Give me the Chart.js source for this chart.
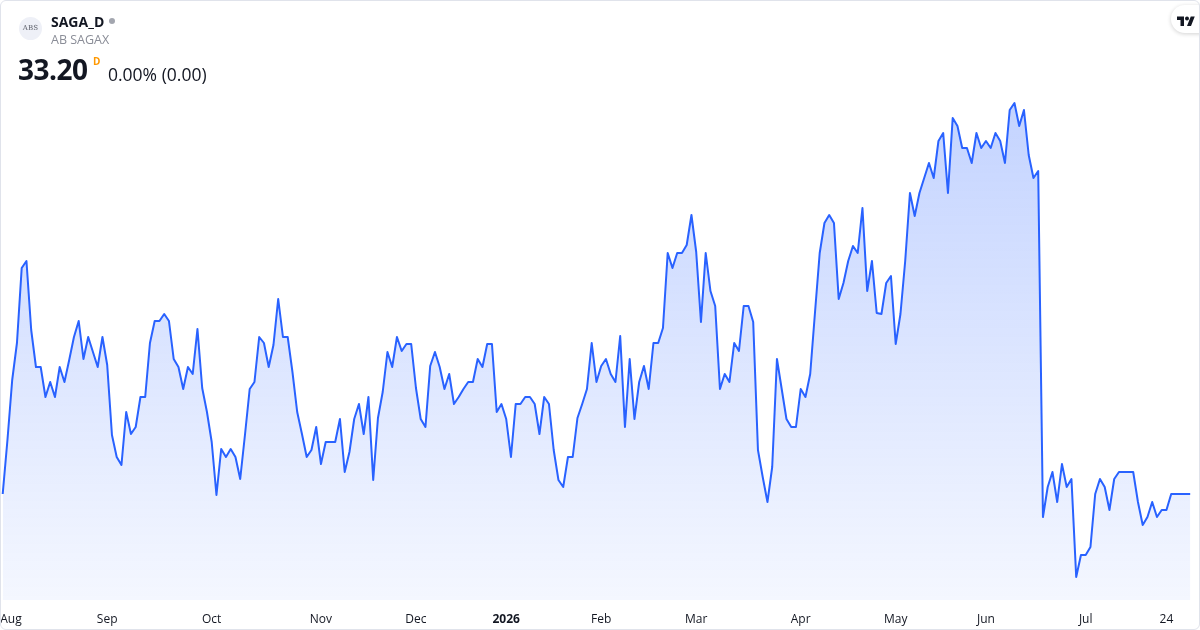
<!DOCTYPE html>
<html>
<head>
<meta charset="utf-8">
<script src="https://cdn.jsdelivr.net/npm/chart.js@4.4.1/dist/chart.umd.min.js"></script>
<style>
html,body{margin:0;padding:0;background:#fff;}
#wrap{position:relative;width:1200px;height:630px;overflow:hidden;font-family:"Open Sans",sans-serif;color:#131722;}
#chart{position:absolute;left:0;top:0;}
#frame{position:absolute;left:0;top:0;width:1198px;height:628px;border:1px solid #e0e3eb;border-radius:6px;pointer-events:none;z-index:5;}
.t{position:absolute;white-space:nowrap;z-index:4;}
#icon{position:absolute;left:19px;top:17px;width:23px;height:23px;border-radius:50%;background:#eef0f7;z-index:4;
  font-family:"DejaVu Serif",serif;font-size:7px;color:#5d606b;text-align:center;line-height:23px;letter-spacing:0.2px;}
#dot{position:absolute;left:109px;top:18px;width:6px;height:6px;border-radius:50%;background:#a3a6af;z-index:4;}
#logo{position:absolute;left:1171px;top:5px;width:44px;height:28px;border-radius:14px;background:#fff;box-shadow:0 1px 4px rgba(0,0,0,0.18);z-index:4;}
#logo svg{position:absolute;left:6px;top:11px;}
</style>
</head>
<body>
<div id="wrap">
  <canvas id="chart" width="1200" height="630"></canvas>
  <div id="icon">ABS</div>
  <div class="t" id="sym" style="left:51px;top:14.6px;font-size:14px;line-height:14px;font-weight:700;">SAGA_D</div>
  <div id="dot"></div>
  <div class="t" id="name" style="left:51px;top:34px;font-size:12.5px;line-height:12.5px;color:#8a8d97;">AB SAGAX</div>
  <div class="t" id="price" style="left:18px;top:55px;font-size:28px;line-height:28px;font-weight:700;letter-spacing:-0.5px;">33.20</div>
  <div class="t" id="flag" style="left:93px;top:56px;font-size:10px;line-height:10px;font-weight:700;color:#ff9800;">D</div>
  <div class="t" id="chg" style="left:108px;top:66px;font-size:17.5px;line-height:17.5px;">0.00% (0.00)</div>
  <div id="logo"><svg width="18" height="10" viewBox="0 0 36 20"><path d="M14 20H7V8H0V1h14v19zM28 20h-8l7.5-19h8L28 20z" fill="#131722"/><circle cx="20" cy="5" r="4" fill="#131722"/></svg></div>
  <div id="frame"></div>
</div>
<script>
// Daily closing prices (SEK), one per trading day, oldest first
const closes = [
33.20,33.74,34.34,34.71,35.46,35.53,34.84,34.47,34.47,34.17,
34.32,34.17,34.47,34.32,34.54,34.77,34.93,34.55,34.77,34.62,
34.47,34.77,34.49,33.79,33.57,33.49,34.02,33.80,33.87,34.17,
34.17,34.71,34.93,34.93,35.00,34.93,34.55,34.47,34.25,34.47,
34.40,34.85,34.26,34.02,33.72,33.19,33.65,33.57,33.65,33.57,
33.35,33.79,34.25,34.32,34.77,34.71,34.47,34.69,35.15,34.77,
34.77,34.42,34.02,33.80,33.57,33.64,33.87,33.50,33.72,33.72,
33.72,33.95,33.42,33.62,33.95,34.10,33.80,34.17,33.34,33.96,
34.22,34.62,34.47,34.77,34.63,34.70,34.70,34.26,33.95,33.87,
34.48,34.62,34.47,34.25,34.40,34.10,34.17,34.25,34.32,34.32,
34.55,34.47,34.70,34.70,34.02,34.10,33.95,33.57,34.10,34.10,
34.17,34.17,34.10,33.80,34.17,34.10,33.64,33.34,33.27,33.57,
33.57,33.96,34.10,34.25,34.71,34.32,34.48,34.55,34.40,34.32,
34.78,33.87,34.55,33.95,34.32,34.48,34.25,34.71,34.71,34.86,
35.61,35.46,35.61,35.61,35.69,35.99,35.62,34.92,35.61,35.23,
35.08,34.25,34.40,34.32,34.71,34.63,35.08,35.08,34.92,33.64,
33.37,33.12,33.47,34.55,34.25,33.95,33.87,33.87,34.25,34.17,
34.40,35.01,35.61,35.91,35.99,35.91,35.15,35.31,35.53,35.68,
35.61,36.06,35.23,35.53,35.01,35.00,35.31,35.38,34.70,35.00,
35.53,36.21,35.98,36.21,36.36,36.51,36.36,36.73,36.81,36.21,
36.96,36.88,36.66,36.66,36.51,36.81,36.66,36.73,36.66,36.81,
36.73,36.51,37.04,37.11,36.88,37.04,36.59,36.36,36.43,32.97,
33.27,33.42,33.12,33.50,33.27,33.35,32.37,32.59,32.59,32.67,
33.20,33.35,33.27,33.04,33.35,33.42,33.42,33.42,33.42,33.12,
32.89,32.97,33.12,32.97,33.04,33.04,33.20,33.20,33.20,33.20,
33.20
];
// Time-axis labels and the trading-day index where each one sits
const tickLabels = ['Aug','Sep','Oct','Nov','Dec','2026','Feb','Mar','Apr','May','Jun','Jul','24'];
const tickIndex  = [1.75, 22, 44, 67, 87, 106, 126, 146, 168, 188, 207, 228, 245];

const points = closes.map((v, i) => ({x: i, y: v}));

const ctx = document.getElementById('chart').getContext('2d');
new Chart(ctx, {
  type: 'line',
  data: {
    datasets: [{
      data: points,
      borderColor: '#2962ff',
      borderWidth: 2,
      pointRadius: 0,
      tension: 0,
      borderJoinStyle: 'round',
      fill: 'start',
      backgroundColor: (c) => {
        const ch = c.chart, area = ch.chartArea;
        if (!area) return 'rgba(41,98,255,0.15)';
        const g = ch.ctx.createLinearGradient(0, area.top + 100, 0, area.bottom);
        g.addColorStop(0, 'rgba(41,98,255,0.28)');
        g.addColorStop(1, 'rgba(41,98,255,0.05)');
        return g;
      }
    }]
  },
  options: {
    responsive: false,
    animation: false,
    devicePixelRatio: 1,
    layout: { padding: 0, autoPadding: false },
    plugins: { legend: { display: false }, tooltip: { enabled: false } },
    scales: {
      x: {
        type: 'linear',
        min: -0.568,
        max: 252.063,
        bounds: 'data',
        grid: { display: false },
        border: { display: false },
        afterFit: (s) => { s.height = 30; s.paddingLeft = 0; s.paddingRight = 0; },
        afterBuildTicks: (s) => { s.ticks = tickIndex.map(v => ({ value: v })); },
        ticks: {
          autoSkip: false,
          maxRotation: 0,
          padding: 4,
          color: '#131722',
          font: (c) => ({ family: 'Open Sans', size: 12, weight: (c.tick && c.tick.label === '2026') ? 'bold' : 'normal' }),
          callback: (v, i) => tickLabels[i]
        }
      },
      y: {
        display: false,
        min: 32.14,
        max: 38.14
      }
    }
  }
});
</script>
</body>
</html>
